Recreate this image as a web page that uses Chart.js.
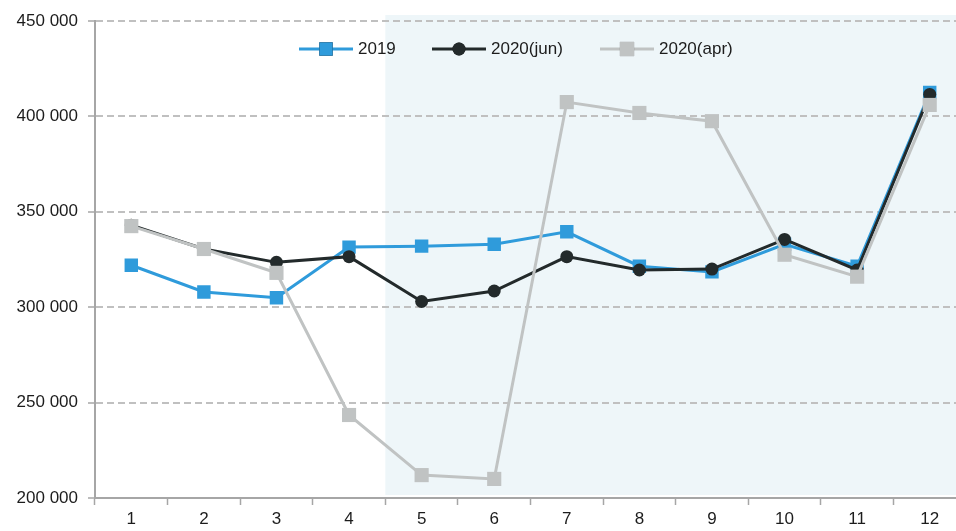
<!DOCTYPE html>
<html>
<head>
<meta charset="utf-8">
<script src="https://cdn.jsdelivr.net/npm/chart.js@4/dist/chart.umd.min.js"></script>
<style>
  html, body { margin: 0; padding: 0; background: #fff; overflow: hidden; }
  #wrap { position: relative; width: 976px; height: 531px; }
</style>
</head>
<body>
<div id="wrap"><canvas id="monthChart"></canvas></div>
<script>
// --- data ---
const months = ['1', '2', '3', '4', '5', '6', '7', '8', '9', '10', '11', '12'];
const y2019 = [322000, 308000, 305000, 331500, 332000, 333000, 339500, 321500, 318500, 333000, 321500, 412500];
const y2020jun = [343000, 330500, 323500, 326500, 303000, 308500, 326500, 319500, 320000, 335500, 319500, 411500];
const y2020apr = [342500, 330500, 318000, 243500, 212000, 210000, 407500, 401800, 397500, 327500, 316000, 406000];
const yTicks = [200000, 250000, 300000, 350000, 400000, 450000];

const BLUE = '#2f9bdb';
const BLACK = '#232a2b';
const GREY = '#c0c3c3';
const FONT = "'Liberation Sans', Arial, sans-serif";

function fmt(v) {
    return String(v).replace(/\B(?=(\d{3})+(?!\d))/g, ' ');
}

// light band behind the months 5..12
const shadePlugin = {
    id: 'shade',
    beforeDraw(chart) {
        const { ctx, chartArea, scales } = chart;
        const x0 = scales.x.getPixelForValue(3.5);
        ctx.save();
        ctx.fillStyle = '#eef6f9';
        ctx.fillRect(x0, chartArea.top - 6, chartArea.right - x0, chartArea.bottom - chartArea.top + 3);
        ctx.restore();
    }
};

// legend drawn as line + marker + label
const legendPlugin = {
    id: 'lineLegend',
    afterDraw(chart) {
        const { ctx } = chart;
        const items = [
            { x: 299, ds: chart.data.datasets[0] },
            { x: 432, ds: chart.data.datasets[1] },
            { x: 600, ds: chart.data.datasets[2] }
        ];
        const y = 49;
        ctx.save();
        ctx.font = '17px ' + FONT;
        ctx.textBaseline = 'middle';
        items.forEach(it => {
            const ds = it.ds;
            ctx.strokeStyle = ds.borderColor;
            ctx.lineWidth = 3;
            ctx.beginPath();
            ctx.moveTo(it.x, y);
            ctx.lineTo(it.x + 54, y);
            ctx.stroke();
            Chart.helpers.drawPoint(ctx, {
                pointStyle: ds.pointStyle,
                radius: ds.pointRadius,
                rotation: 0,
                borderWidth: 0
            }, it.x + 27, y);
            ctx.fillStyle = ds.pointBackgroundColor;
            ctx.fill();
            ctx.fillStyle = '#1c1c1c';
            ctx.fillText(ds.label, it.x + 59, y);
        });
        ctx.restore();
    }
};

new Chart(document.getElementById('monthChart'), {
    type: 'line',
    data: {
        labels: months,
        datasets: [
            {
                label: '2019',
                data: y2019,
                borderColor: BLUE,
                backgroundColor: BLUE,
                pointBackgroundColor: BLUE,
                pointBorderWidth: 0,
                pointStyle: 'rect',
                pointRadius: 9.5,
                borderWidth: 3,
                order: 3
            },
            {
                label: '2020(jun)',
                data: y2020jun,
                borderColor: BLACK,
                backgroundColor: BLACK,
                pointBackgroundColor: BLACK,
                pointBorderWidth: 0,
                pointStyle: 'circle',
                pointRadius: 6.5,
                borderWidth: 3,
                order: 2
            },
            {
                label: '2020(apr)',
                data: y2020apr,
                borderColor: GREY,
                backgroundColor: GREY,
                pointBackgroundColor: GREY,
                pointBorderWidth: 0,
                pointStyle: 'rect',
                pointRadius: 10,
                borderWidth: 3,
                order: 1
            }
        ]
    },
    options: {
        responsive: true,
        maintainAspectRatio: false,
        animation: false,
        events: [],
        layout: { padding: { top: 21, right: 4, left: 0, bottom: 0 } },
        plugins: {
            legend: { display: false },
            tooltip: { enabled: false }
        },
        scales: {
            x: {
                offset: true,
                grid: {
                    offset: true,
                    drawOnChartArea: false,
                    drawTicks: true,
                    tickLength: 7,
                    tickColor: '#a6a6a6',
                    tickWidth: 1.5
                },
                border: { color: '#a6a6a6', width: 2 },
                ticks: {
                    color: '#1c1c1c',
                    font: { family: FONT, size: 17 },
                    padding: 4,
                    maxRotation: 0
                },
                afterFit(scale) { scale.height = 33; }
            },
            y: {
                min: 200000,
                max: 450000,
                afterBuildTicks(scale) {
                    scale.ticks = yTicks.map(v => ({ value: v }));
                },
                grid: {
                    color: '#c0c0c0',
                    lineWidth: 2,
                    tickLength: 7,
                    tickColor: '#a6a6a6',
                    tickWidth: 1.5
                },
                border: { color: '#a6a6a6', width: 2, dash: [7, 4] },
                ticks: {
                    color: '#1c1c1c',
                    font: { family: FONT, size: 17 },
                    padding: 10,
                    callback: v => fmt(v)
                },
                afterFit(scale) { scale.width = 95; }
            }
        }
    },
    plugins: [shadePlugin, legendPlugin]
});
</script>
</body>
</html>
